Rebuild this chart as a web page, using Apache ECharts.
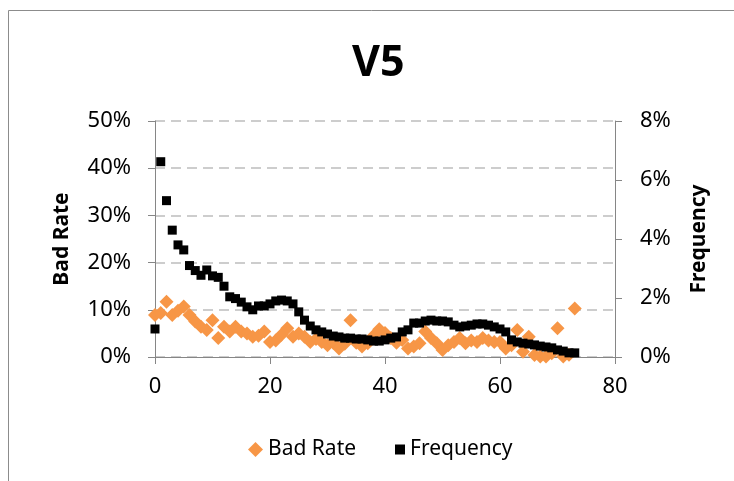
<!DOCTYPE html>
<html>
<head>
<meta charset="utf-8">
<script src="https://cdn.jsdelivr.net/npm/echarts@6/dist/echarts.min.js"></script>
<style>
  html, body { margin: 0; padding: 0; background: #fff; }
  #chart { width: 734px; height: 481px; }
</style>
</head>
<body>
<div id="chart"></div>
<script>
// bucket index 0..73
var buckets = [];
for (var i = 0; i <= 73; i++) buckets.push(i);

// Bad Rate, in percent (left axis)
var badRate = [
  8.9, 9.3, 11.7, 8.9, 9.8, 10.7, 8.9, 7.5, 6.4, 5.7,
  7.8, 4.0, 6.4, 5.4, 6.4, 5.4, 5.0, 4.3, 4.5, 5.4,
  3.2, 3.5, 4.7, 6.1, 4.3, 5.0, 4.3, 3.2, 3.8, 3.2,
  2.5, 3.0, 1.8, 2.8, 7.8, 3.0, 2.2, 2.9, 4.5, 5.9,
  5.1, 4.0, 3.0, 3.6, 1.8, 2.2, 2.9, 5.4, 4.0, 2.9,
  1.5, 2.5, 3.2, 4.0, 2.9, 3.5, 3.2, 4.0, 3.5, 3.2,
  3.2, 1.8, 2.5, 5.7, 1.1, 4.3, 0.4, 0.1, 0.1, 0.8,
  6.1, 0.1, 0.5, 10.3
];

// Frequency, in percent (right axis)
var frequency = [
  0.95, 6.62, 5.3, 4.3, 3.8, 3.63, 3.1, 2.93, 2.77, 2.95,
  2.75, 2.7, 2.4, 2.04, 1.98, 1.86, 1.7, 1.6, 1.73, 1.73,
  1.8, 1.9, 1.93, 1.9, 1.8, 1.53, 1.25, 1.05, 0.92, 0.85,
  0.78, 0.71, 0.68, 0.64, 0.64, 0.61, 0.61, 0.58, 0.54, 0.54,
  0.58, 0.64, 0.68, 0.85, 0.92, 1.15, 1.15, 1.22, 1.25, 1.22,
  1.22, 1.19, 1.08, 1.02, 1.05, 1.08, 1.12, 1.12, 1.08, 1.02,
  0.95, 0.85, 0.58, 0.51, 0.47, 0.44, 0.41, 0.37, 0.34, 0.31,
  0.24, 0.2, 0.14, 0.14
];

var xTicks = [0, 20, 40, 60, 80];

function pairs(vals) {
  return buckets.map(function (b, k) { return [b, vals[k]]; });
}

var font = '"Noto Sans", "Open Sans", sans-serif';
var axisGray = '#868686';

var myChart = echarts.init(document.getElementById('chart'));
var option = {
  animation: false,
  backgroundColor: '#fff',
  textStyle: { fontFamily: font },
  graphic: [{
    type: 'rect',
    shape: { x: 8.5, y: 10.5, width: 900, height: 600 },
    style: { fill: 'none', stroke: '#8c8c8c', lineWidth: 1 },
    silent: true,
    z: -1
  }, {
    type: 'text',
    left: 352,
    top: 42,
    style: { text: 'V5', font: 'bold 43px ' + font, fill: '#000' }
  }],
  legend: [{
    data: [{ name: 'Bad Rate', icon: 'diamond' }],
    left: 243,
    top: 434,
    itemWidth: 15,
    itemHeight: 15,
    itemGap: 6,
    textStyle: { fontFamily: font, fontSize: 21, color: '#000' }
  }, {
    data: [{ name: 'Frequency', icon: 'rect' }],
    left: 390,
    top: 434,
    itemWidth: 10,
    itemHeight: 10,
    textStyle: { fontFamily: font, fontSize: 21, color: '#000' }
  }],
  grid: { left: 155, right: 119, top: 121, bottom: 124 },
  xAxis: {
    type: 'value',
    min: 0,
    max: 80,
    interval: 20,
    axisLine: { show: true, onZero: false, lineStyle: { color: axisGray } },
    axisTick: { show: true, length: 7, lineStyle: { color: axisGray } },
    splitLine: { show: false },
    axisLabel: {
      color: '#000', fontSize: 22, fontFamily: font, margin: 19,
      formatter: function (v) { return xTicks.indexOf(v) >= 0 ? String(v) : ''; }
    }
  },
  yAxis: [{
    type: 'value',
    position: 'left',
    min: 0,
    max: 50,
    interval: 10,
    name: 'Bad Rate',
    nameLocation: 'middle',
    nameGap: 82,
    nameTextStyle: { fontFamily: font, fontSize: 21, fontWeight: 'bold', color: '#000' },
    axisLine: { show: true, lineStyle: { color: axisGray } },
    axisTick: { show: true, length: 7, lineStyle: { color: axisGray } },
    splitLine: { show: true, lineStyle: { color: '#bdbdbd', type: [10, 6], width: 1.5 } },
    axisLabel: { color: '#000', fontSize: 22, fontFamily: font, margin: 24, formatter: '{value}%' }
  }, {
    type: 'value',
    position: 'right',
    min: 0,
    max: 8,
    interval: 2,
    name: 'Frequency',
    nameLocation: 'middle',
    nameGap: 74,
    nameTextStyle: { fontFamily: font, fontSize: 21, fontWeight: 'bold', color: '#000' },
    axisLine: { show: true, lineStyle: { color: axisGray } },
    axisTick: { show: true, length: 7, lineStyle: { color: axisGray } },
    splitLine: { show: false },
    axisLabel: { color: '#000', fontSize: 22, fontFamily: font, margin: 25, formatter: '{value}%' }
  }],
  series: [{
    name: 'Bad Rate',
    type: 'scatter',
    yAxisIndex: 0,
    symbol: 'diamond',
    symbolSize: 14,
    itemStyle: { color: '#f79646', opacity: 1 },
    data: pairs(badRate)
  }, {
    name: 'Frequency',
    type: 'scatter',
    yAxisIndex: 1,
    symbol: 'rect',
    symbolSize: 9,
    itemStyle: { color: '#000', opacity: 1 },
    data: pairs(frequency)
  }]
};
myChart.setOption(option);
</script>
</body>
</html>
